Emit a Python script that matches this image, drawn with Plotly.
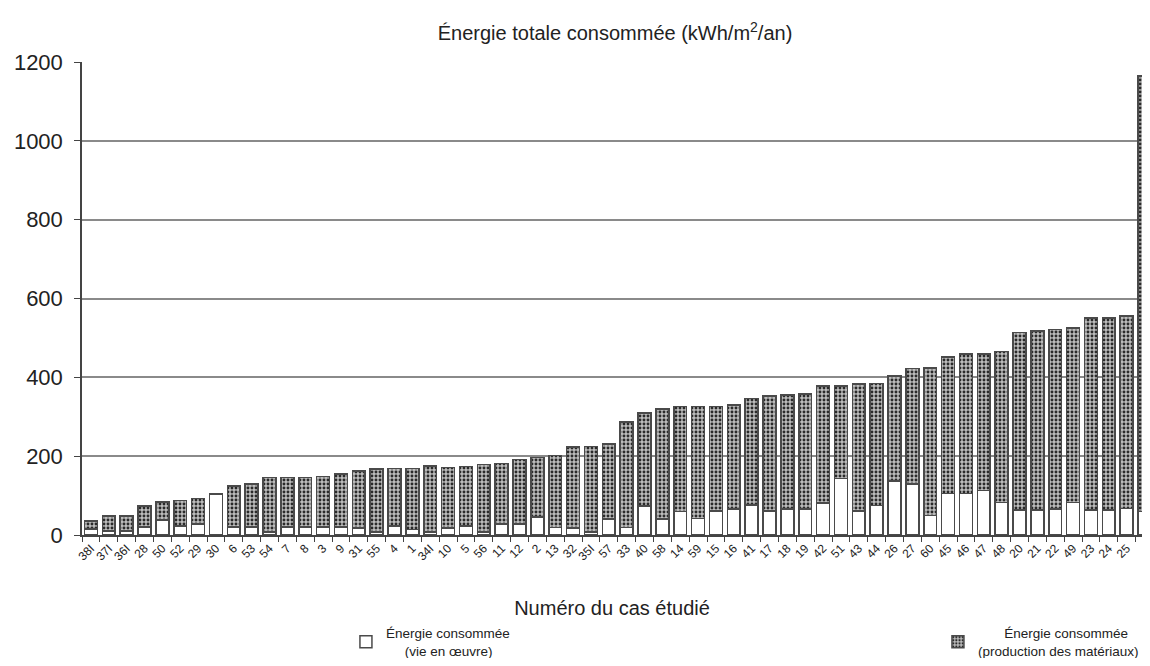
import plotly.graph_objects as go

cases = ["38I", "37I", "36I", "28", "50", "52", "29", "30", "6", "53", "54", "7", "8", "3", "9",
         "31", "55", "4", "1", "34I", "10", "5", "56", "11", "12", "2", "13", "32", "35I", "57",
         "33", "40", "58", "14", "59", "15", "16", "41", "17", "18", "19", "42", "51", "43", "44",
         "26", "27", "60", "45", "46", "47", "48", "20", "21", "22", "49", "23", "24", "25", "39"]

vie_en_oeuvre = [15, 10, 10, 20, 38, 23, 28, 104, 20, 20, 8, 20, 20, 20, 20,
                 18, 8, 23, 14, 8, 18, 23, 7, 28, 28, 46, 19, 18, 8, 40,
                 19, 74, 40, 60, 42, 61, 66, 76, 61, 66, 66, 81, 143, 61, 75,
                 137, 130, 50, 105, 105, 113, 82, 63, 63, 66, 82, 63, 63, 67, 60]

production = [20, 38, 38, 53, 46, 64, 64, 0, 104, 109, 138, 126, 126, 129, 135,
              145, 159, 146, 155, 167, 153, 151, 172, 154, 164, 151, 183, 205, 217, 191,
              268, 235, 280, 266, 284, 265, 264, 270, 292, 289, 292, 297, 235, 322, 309,
              266, 293, 374, 347, 354, 346, 384, 451, 455, 455, 443, 487, 487, 488, 1105]

y_ticks = [0, 200, 400, 600, 800, 1000, 1200]

FONT = "Arial, 'Liberation Sans', sans-serif"
NB = "\u00a0"

fig = go.Figure()
fig.add_trace(go.Bar(
    x=cases, y=vie_en_oeuvre,
    name="Énergie consommée<br>" + NB * 5 + "(vie en œuvre)",
    marker=dict(color="white", line=dict(color="#4a4a4a", width=1.5)),
    legend="legend",
))
fig.add_trace(go.Bar(
    x=cases, y=production,
    name=NB * 7 + "Énergie consommée<br>(production des matériaux)",
    marker=dict(color="#a0a0a0", line=dict(color="#4a4a4a", width=1.5),
                pattern=dict(shape=".", fillmode="replace", bgcolor="#bdbdbd",
                             fgcolor="#2a2a2a", size=4, solidity=0.42)),
    legend="legend2",
))

fig.update_layout(
    barmode="stack",
    bargap=0.28,
    width=1134, height=650,
    margin=dict(l=74, r=0, t=54, b=123, autoexpand=False),
    paper_bgcolor="white", plot_bgcolor="white",
    font=dict(family=FONT, color="#222"),
    title=dict(text="Énergie totale consommée (kWh/m<sup>2</sup>/an)",
               x=0.5353, xanchor="center", y=0.9615, yanchor="middle",
               font=dict(size=20, family=FONT, color="#222")),
    xaxis=dict(
        type="category", range=[-0.5, 58.86], automargin=False,
        tickangle=-45, tickfont=dict(size=12, family=FONT, color="#222"),
        ticks="outside", ticklen=5, tickcolor="#444", tickson="boundaries",
        showline=True, linecolor="#444", linewidth=1.5, showgrid=False,
        title=dict(text="Numéro du cas étudié", font=dict(size=20, family=FONT, color="#222"),
                   standoff=39),
    ),
    yaxis=dict(
        range=[0, 1200], tickvals=y_ticks, ticktext=[str(v) for v in y_ticks],
        automargin=False, ticklabelstandoff=7,
        tickfont=dict(size=22, family=FONT, color="#222"),
        ticks="outside", ticklen=6, tickcolor="#444",
        showline=True, linecolor="#444", linewidth=1.5,
        showgrid=True, gridcolor="#8a8a8a", gridwidth=1.5, zeroline=False,
    ),
    legend=dict(x=0.249, y=-0.175, xanchor="left", yanchor="top",
                font=dict(size=13.5, family=FONT, color="#222"), bgcolor="rgba(0,0,0,0)",
                traceorder="normal"),
    legend2=dict(x=0.8075, y=-0.175, xanchor="left", yanchor="top",
                 font=dict(size=13.5, family=FONT, color="#222"), bgcolor="rgba(0,0,0,0)"),
    showlegend=True,
)

fig.write_html("out.html")
